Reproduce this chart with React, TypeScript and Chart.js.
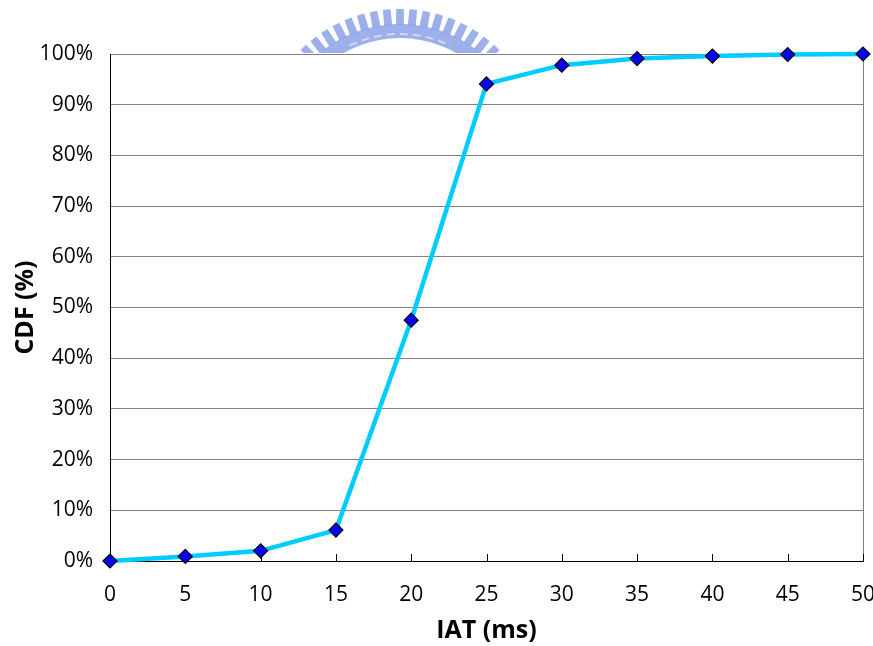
import React, { useEffect, useRef } from "react";
import { Chart, registerables } from "chart.js";

Chart.register(...registerables);

const iatMs = [0, 5, 10, 15, 20, 25, 30, 35, 40, 45, 50];
const cdfPct = [0, 0.9, 2.0, 6.1, 47.5, 94.1, 97.8, 99.1, 99.6, 99.9, 100];
const xTicks = [0, 5, 10, 15, 20, 25, 30, 35, 40, 45, 50];
const yTicks = [0, 10, 20, 30, 40, 50, 60, 70, 80, 90, 100];

const FONT = "'Open Sans', 'DejaVu Sans', sans-serif";

const decorPlugin = {
  id: "decor",
  beforeDraw(chart: any) {
    const ctx = chart.ctx;
    const top = chart.chartArea.top;
    ctx.save();
    ctx.beginPath();
    ctx.rect(0, 0, chart.width, top - 1);
    ctx.clip();
    const cx = 400, cy = 150;
    const rIn = 112, rMid = 126, rOut = 141;
    const half = (45 * Math.PI) / 180;
    const a0 = -Math.PI / 2 - half, a1 = -Math.PI / 2 + half;
    ctx.fillStyle = "rgba(140,162,232,0.85)";
    ctx.beginPath();
    ctx.arc(cx, cy, rMid, a0, a1);
    ctx.arc(cx, cy, rIn, a1, a0, true);
    ctx.closePath();
    ctx.fill();
    const n = 17;
    const toothHalf = (1.7 * Math.PI) / 180;
    for (let i = 0; i < n; i++) {
      const a = a0 + toothHalf + ((a1 - a0 - 2 * toothHalf) * i) / (n - 1);
      ctx.beginPath();
      ctx.arc(cx, cy, rOut, a - toothHalf * 0.9, a + toothHalf * 0.9);
      ctx.arc(cx, cy, rMid - 1, a + toothHalf * 1.1, a - toothHalf * 1.1, true);
      ctx.closePath();
      ctx.fill();
    }
    ctx.strokeStyle = "rgba(215,222,245,0.9)";
    ctx.lineWidth = 2;
    ctx.setLineDash([8, 5]);
    ctx.beginPath();
    ctx.arc(cx, cy, rIn + 4, -Math.PI / 2 - 0.45, -Math.PI / 2 + 0.45);
    ctx.stroke();
    ctx.restore();
  },
  beforeDatasetsDraw(chart: any) {
    const { ctx, chartArea, scales } = chart;
    ctx.save();
    ctx.strokeStyle = "#808080";
    ctx.lineWidth = 1;
    ctx.beginPath();
    ctx.moveTo(Math.round(chartArea.right) + 0.5, chartArea.top);
    ctx.lineTo(Math.round(chartArea.right) + 0.5, chartArea.bottom);
    ctx.stroke();
    ctx.strokeStyle = "#000";
    for (const t of xTicks) {
      const px = Math.round(scales.x.getPixelForValue(t)) + 0.5;
      ctx.beginPath();
      ctx.moveTo(px, chartArea.bottom);
      ctx.lineTo(px, chartArea.bottom - 7);
      ctx.stroke();
    }
    ctx.restore();
  },
};

export default function App() {
  const ref = useRef<HTMLCanvasElement>(null);
  useEffect(() => {
    if (!ref.current) return;
    const chart = new Chart(ref.current, {
      type: "line",
      data: {
        datasets: [
          {
            data: iatMs.map((x, i) => ({ x, y: cdfPct[i] })),
            borderColor: "#00CCFF",
            borderWidth: 4.5,
            pointStyle: "rectRot",
            pointRadius: 7,
            pointBackgroundColor: "#0000FF",
            pointBorderColor: "#000000",
            pointBorderWidth: 1.2,
            tension: 0,
            clip: false as any,
          },
        ],
      },
      options: {
        animation: false,
        responsive: false,
        layout: { padding: { top: 54, right: 10, left: 11, bottom: 0 } },
        plugins: { legend: { display: false }, tooltip: { enabled: false } },
        scales: {
          x: {
            type: "linear",
            min: 0,
            max: 50,
            afterBuildTicks: (s: any) => {
              s.ticks = xTicks.map((v) => ({ value: v }));
            },
            afterFit: (s: any) => {
              s.height = 85;
              s.paddingLeft = 0;
              s.paddingRight = 0;
            },
            grid: { display: false, drawTicks: false },
            border: { display: true, color: "#000", width: 1 },
            ticks: {
              color: "#000",
              font: { family: FONT, size: 21 },
              padding: 21,
              maxRotation: 0,
            },
            title: {
              display: true,
              text: "IAT (ms)",
              color: "#000",
              font: { family: FONT, size: 25, weight: "bold" },
              padding: { top: 2, bottom: 0 },
            },
          },
          y: {
            type: "linear",
            min: 0,
            max: 100,
            afterBuildTicks: (s: any) => {
              s.ticks = yTicks.map((v) => ({ value: v }));
            },
            afterFit: (s: any) => {
              s.width = 99;
              s.paddingTop = 0;
              s.paddingBottom = 0;
            },
            grid: { color: "#808080", lineWidth: 1, drawTicks: false },
            border: { display: true, color: "#000", width: 1 },
            ticks: {
              color: "#000",
              font: { family: FONT, size: 21 },
              padding: 17,
              callback: (v: any) => v + "%",
            },
            title: {
              display: true,
              text: "CDF (%)",
              color: "#000",
              font: { family: FONT, size: 25, weight: "bold" },
              padding: { top: 0, bottom: 0 },
            },
          },
        },
      },
      plugins: [decorPlugin],
    });
    return () => chart.destroy();
  }, []);
  return (
    <div style={{ position: "fixed", left: 0, top: 0, width: 873, height: 646, background: "#fff" }}>
      <canvas ref={ref} width={873} height={646} style={{ width: 873, height: 646 }} />
    </div>
  );
}
